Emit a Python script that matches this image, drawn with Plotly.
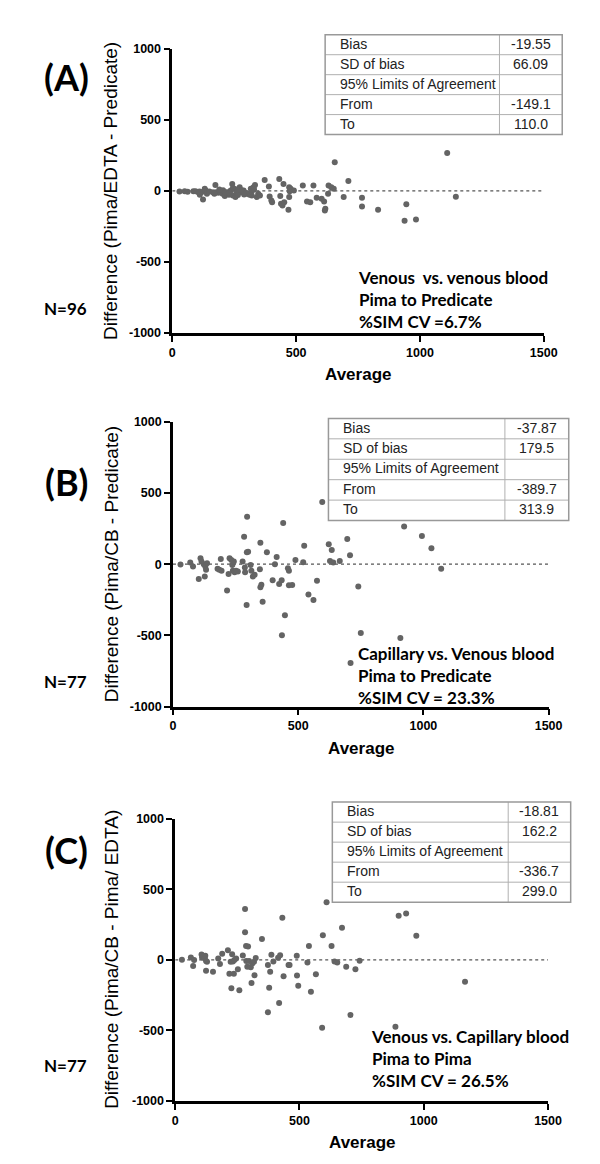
import plotly.graph_objects as go

W, H = 600, 1164

# ---------------- data ----------------
avg_A = [29, 62, 85, 94, 105, 111, 118, 124, 131, 135, 140, 164, 174, 177, 186, 194, 203, 212, 223, 229,
         236, 242, 245, 249, 255, 259, 269, 272, 282, 288, 301, 312, 317, 321, 328, 334, 341, 347, 354, 373,
         390, 393, 400, 403, 432, 436, 439, 445, 449, 452, 469, 472, 472, 474, 478, 491, 527, 544, 557, 570,
         583, 603, 616, 618, 613, 629, 631, 642, 652, 656, 692, 711, 766, 766, 831, 938, 945, 984, 1110, 1145,
         50, 150, 170, 205, 215, 260, 280, 300, 320, 330, 290, 230, 110, 190, 245, 265]
diff_A = [-5, -7, -2, -2, -9, -28, -9, -61, 14, 2, -21, -9, 42, -9, -14, -5, -21, -37, -9, -28,
          2, 49, -33, 14, -44, -21, -9, 26, -9, 2, -21, -28, 14, -33, 26, 42, -44, -21, -33, 77,
          30, -40, -68, -80, 84, -37, -91, -103, 49, -80, -133, 26, -44, -2, 14, 2, 37, -75, -80, 37,
          -49, -56, -138, -126, -75, -21, 37, 26, 14, 201, -44, 70, -49, -110, -133, -211, -94, -201, 267, -42,
          -3, -5, -20, 5, -10, 10, 5, -15, -5, 10, -25, -15, -5, 10, 20, -30]

avg_B = [30, 69, 80, 103, 110, 114, 123, 127, 129, 132, 136, 178, 185, 191, 194, 216, 222, 226, 233, 237,
         239, 243, 246, 252, 259, 278, 284, 287, 288, 294, 295, 296, 300, 310, 313, 319, 326, 347, 349, 349,
         353, 358, 375, 398, 407, 414, 424, 434, 435, 440, 447, 459, 463, 463, 476, 489, 520, 524, 541, 561,
         575, 596, 622, 634, 627, 640, 666, 696, 707, 709, 740, 750, 908, 923, 994, 1032, 1071]
diff_B = [-2, 12, -16, -104, 42, 19, 0, -86, -16, -39, 7, -32, -39, 37, -46, -185, -69, 42, 30, -5,
          -46, 19, -56, -46, -51, 19, 192, -23, -56, -287, 83, 333, 88, -5, -46, -86, -74, -35, 150, -162,
          -144, -264, 83, -113, -1, 51, -139, -113, -500, 289, -359, -28, -46, -148, -146, 30, 14, 130, -213, -252,
          -116, 437, 139, 100, 23, 12, 23, 176, 62, -694, -157, -484, -519, 264, 197, 111, -32]

avg_C = [27, 63, 72, 76, 106, 108, 112, 119, 121, 124, 124, 128, 152, 173, 180, 189, 212, 218, 223, 226,
         229, 232, 236, 238, 245, 252, 258, 272, 281, 281, 285, 286, 290, 293, 297, 304, 307, 310, 317, 319,
         324, 349, 373, 373, 378, 382, 387, 395, 414, 418, 422, 431, 436, 456, 460, 489, 490, 495, 532, 538,
         546, 566, 594, 591, 609, 629, 641, 652, 671, 688, 705, 725, 742, 886, 899, 929, 970, 1166]
diff_C = [0, 16, -44, -2, 37, 16, 26, 9, 28, -9, -77, -14, -84, 9, -30, 42, 67, -98, -14, -202,
          40, -12, -98, -2, 9, -67, -216, 30, 195, 360, 98, -9, -49, 95, -9, -53, -165, -26, -14, -109,
          12, 147, -37, -372, -198, -84, 35, -12, 14, -305, 33, 298, -116, -37, -37, 28, -112, -184, -19, 98,
          -226, -102, 174, -481, 407, 98, -12, -19, 226, -49, -391, -67, -7, -474, 312, 328, 170, -156]

panel_letters = ["(A)", "(B)", "(C)"]
n_labels = ["N=96", "N=77", "N=77"]
y_titles = ["Difference (Pima/EDTA - Predicate)",
            "Difference (Pima/CB - Predicate)",
            "Difference (Pima/CB - Pima/ EDTA)"]
x_title = "Average"
notes = [["Venous  vs. venous blood", "Pima to Predicate", "%SIM CV =6.7%"],
         ["Capillary vs. Venous blood", "Pima to Predicate", "%SIM CV = 23.3%"],
         ["Venous vs. Capillary blood", "Pima to Pima", "%SIM CV = 26.5%"]]
table_labels = ["Bias", "SD of bias", "95% Limits of Agreement", "From", "To"]
table_values = [["-19.55", "66.09", "", "-149.1", "110.0"],
                ["-37.87", "179.5", "", "-389.7", "313.9"],
                ["-18.81", "162.2", "", "-336.7", "299.0"]]
x_ticks = [0, 500, 1000, 1500]
x_ticktext = ["0", "500", "1000", "1500"]
y_ticks = [1000, 500, 0, -500, -1000]
y_ticktext = ["1000", "500", "0", "-500", "-1000"]

# ---------------- layout geometry (pixels) ----------------
plots = [dict(x0=166.0, x1=548.3, y0=34.3, y1=321.7),
         dict(x0=166.7, x1=553.3, y0=411.7, y1=700.0),
         dict(x0=169.0, x1=552.7, y0=813.3, y1=1099.3)]
tables = [dict(l=323.3, r=567.3, t=20.0, b=121.0, s=502.7),
          dict(l=326.7, r=574.0, t=408.3, b=511.7, s=508.3),
          dict(l=330.7, r=576.0, t=796.7, b=898.0, s=511.7)]
letter_pos = [(57, 63), (57, 473), (57, 845)]
n_pos = [(32, 297), (32, 675), (32, 1063)]
ytitle_x = [103, 103, 104]
note_pos = [(355, 288.3), (355, 668.3), (368.3, 1056.7)]

def px(x):
    return x / W

def py(y):
    return 1 - y / H

fig = go.Figure()
data = [(avg_A, diff_A), (avg_B, diff_B), (avg_C, diff_C)]
annotations = []
shapes = []
AX = "Liberation Sans"
CAL = "Lato"

for i in range(3):
    sfx = "" if i == 0 else str(i + 1)
    xa, ya = "x" + sfx, "y" + sfx
    p = plots[i]
    # zero reference line
    fig.add_trace(go.Scatter(x=[0, 1500], y=[0, 0], mode="lines", xaxis=xa, yaxis=ya,
                             line=dict(color="#555555", width=1.2, dash="dot"),
                             hoverinfo="skip", showlegend=False))
    fig.add_trace(go.Scatter(x=data[i][0], y=data[i][1], mode="markers", xaxis=xa, yaxis=ya,
                             marker=dict(color="#646464", size=6, line=dict(width=0)),
                             showlegend=False))
    axis_common = dict(showline=True, linecolor="black", linewidth=2.5, ticks="outside",
                       ticklen=6, tickwidth=2, tickcolor="black", showgrid=False, zeroline=False,
                       tickfont=dict(family=AX, size=12.5, color="black", weight="bold"))
    fig.update_layout(**{
        "xaxis" + sfx: dict(domain=[px(p["x0"]), px(p["x1"])], range=[0, 1500], anchor=ya,
                            tickvals=x_ticks, ticktext=x_ticktext, **axis_common),
        "yaxis" + sfx: dict(domain=[py(p["y1"]), py(p["y0"])], range=[-1000, 1000], anchor=xa,
                            tickvals=y_ticks, ticktext=y_ticktext, **axis_common),
    })
    # panel letter
    annotations.append(dict(x=px(letter_pos[i][0]), y=py(letter_pos[i][1]), xref="paper", yref="paper",
                            text=panel_letters[i], showarrow=False, xanchor="center", yanchor="middle",
                            font=dict(family=CAL, size=36, color="black", weight="bold")))
    annotations.append(dict(x=px(n_pos[i][0]), y=py(n_pos[i][1]), xref="paper", yref="paper",
                            text=n_labels[i], showarrow=False, xanchor="left", yanchor="middle",
                            font=dict(family=CAL, size=17, color="black", weight="bold")))
    # y title
    annotations.append(dict(x=px(ytitle_x[i]), y=py((p["y0"] + p["y1"]) / 2), xref="paper", yref="paper",
                            text=y_titles[i], showarrow=False, textangle=-90,
                            xanchor="center", yanchor="middle",
                            font=dict(family=AX, size=19, color="black")))
    # x title
    annotations.append(dict(x=px((p["x0"] + p["x1"]) / 2), y=py(p["y1"] + 42), xref="paper", yref="paper",
                            text=x_title, showarrow=False, xanchor="center", yanchor="middle",
                            font=dict(family=AX, size=17, color="black", weight="bold")))
    # notes
    annotations.append(dict(x=px(note_pos[i][0]), y=py(note_pos[i][1]), xref="paper", yref="paper",
                            text="<br>".join(notes[i]), showarrow=False, xanchor="left",
                            yanchor="middle", align="left",
                            font=dict(family=CAL, size=17, color="black", weight="bold")))
    # table
    t = tables[i]
    rh = (t["b"] - t["t"]) / len(table_labels)
    for r in range(1, len(table_labels)):
        yy = t["t"] + r * rh
        shapes.append(dict(type="line", xref="paper", yref="paper", x0=px(t["l"]), x1=px(t["r"]),
                           y0=py(yy), y1=py(yy), line=dict(color="#b0b0b0", width=1)))
    shapes.append(dict(type="line", xref="paper", yref="paper", x0=px(t["s"]), x1=px(t["s"]),
                       y0=py(t["t"]), y1=py(t["b"]), line=dict(color="#b0b0b0", width=1)))
    shapes.append(dict(type="rect", xref="paper", yref="paper", x0=px(t["l"]), x1=px(t["r"]),
                       y0=py(t["b"]), y1=py(t["t"]), line=dict(color="#999999", width=1.5)))
    for r, lab in enumerate(table_labels):
        yc = t["t"] + (r + 0.5) * rh - 1
        annotations.append(dict(x=px(t["l"] + 13), y=py(yc), xref="paper", yref="paper", text=lab,
                                showarrow=False, xanchor="left", yanchor="middle",
                                font=dict(family=AX, size=14, color="#222222")))
        if table_values[i][r]:
            annotations.append(dict(x=px((t["s"] + t["r"]) / 2), y=py(yc), xref="paper", yref="paper",
                                    text=table_values[i][r], showarrow=False, xanchor="center",
                                    yanchor="middle", font=dict(family=AX, size=14, color="#222222")))

fig.update_layout(width=W, height=H, margin=dict(l=0, r=0, t=0, b=0),
                  paper_bgcolor="white", plot_bgcolor="white",
                  annotations=annotations, shapes=shapes, showlegend=False)

fig.write_html("out.html")
